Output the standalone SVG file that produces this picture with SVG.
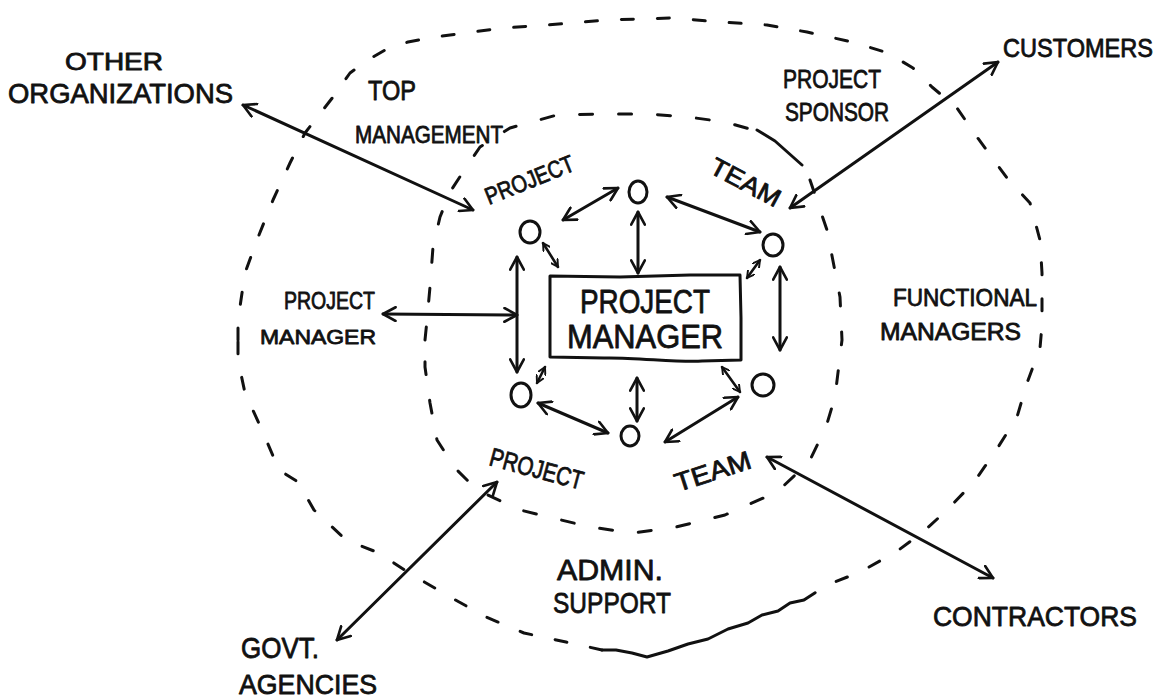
<svg xmlns="http://www.w3.org/2000/svg" width="1166" height="700" viewBox="0 0 1166 700">
  <style>
    .lbl { font-family: "Liberation Sans", "DejaVu Sans", sans-serif; fill: #111; stroke: #111; stroke-width: 0.8; stroke-linejoin: round; }
    .ring { fill: none; stroke: #111; stroke-width: 3; stroke-linecap: round; stroke-linejoin: round; }
    .outer { stroke-dasharray: 12 24; }
    .inner { stroke-dasharray: 13 26; }
    .solid { fill: none; stroke: #111; stroke-width: 3; stroke-linecap: round; stroke-linejoin: round; }
    .arr { fill: none; stroke: #111; stroke-width: 3; stroke-linecap: round; marker-start: url(#ah); marker-end: url(#ah); }
    .arr-s { fill: none; stroke: #111; stroke-width: 2.6; stroke-linecap: round; marker-start: url(#ahs); marker-end: url(#ahs); }
    .member { fill: none; stroke: #111; stroke-width: 3; }
  </style>
  <defs>
    <marker id="ah" viewBox="0 0 14 14" refX="12" refY="7" markerWidth="16" markerHeight="16" markerUnits="userSpaceOnUse" orient="auto-start-reverse">
      <path d="M1,1 L12,7 L1,13" fill="none" stroke="#111" stroke-width="2.3" stroke-linecap="round" stroke-linejoin="round"/>
    </marker>
    <marker id="ahs" viewBox="0 0 14 14" refX="12" refY="7" markerWidth="9" markerHeight="9" markerUnits="userSpaceOnUse" orient="auto-start-reverse">
      <path d="M1,1 L12,7 L1,13" fill="none" stroke="#111" stroke-width="3" stroke-linecap="round" stroke-linejoin="round"/>
    </marker>
  </defs>

  <rect width="1166" height="700" fill="#ffffff"/>

  <!-- outer ring: stakeholders around the project -->
  <g id="outer-ring">
    <path class="ring outer" d="M238,340 L238,320 L245,273 L257,240 L273,200 L290,163 L305,133 L333,97 L350,73 L368,60 L385,50 L408,42 L435,37 L472,32 L503,28 L547,25 L607,20 L672,18 L720,22 L767,25 L807,32 L852,42 L888,53 L913,68 L932,87 L957,108 L977,137 L1007,178 L1030,203 L1040,240 L1042,273 L1042,325 L1040,348 L1027,383 L1017,417 L995,452 L974,482 L947,510 L923,532 L896,552 L860,572 L827,585 L804,600"/>
    <path class="solid" d="M804,600 L790,603 L778,611 L762,615 L748,623 L728,629 L708,639 L688,644 L668,651 L647,657 L632,653 L616,650 L602,650"/>
    <path class="ring outer" d="M602,650 L566,642 L524,633 L486,617 L452,598 L409,573 L379,553 L346,540 L314,510 L298,482 L279,470 L262,430 L245,393 L238,360 L238,340"/>
  </g>

  <!-- inner ring: the project team -->
  <g id="inner-ring">
    <path class="ring inner" d="M425,340 L427,320 L430,287 L433,247 L440,217 L450,192 L463,172 L480,147 L510,128 L557,115 L600,114 L648,114 L688,117 L725,122 L757,131"/>
    <path class="solid" d="M757,130 L775,141 L802,165"/>
    <path class="ring inner" d="M810,180 L827,230 L840,297 L842,340 L835,397 L826,427 L809,462 L777,492 L725,515 L676,527 L633,533 L590,527 L553,518 L520,510 L477,490 L455,468 L437,440 L430,403 L425,367 L425,340"/>
  </g>

  <!-- central box -->
  <g id="project-manager-box">
    <path class="solid" d="M550,276 L620,277 L690,275 L740,275 L741,318 L741,360 L702,361 C682,363 632,357 604,358 L550,357 L550,316 Z"/>
    <text class="lbl" x="580" y="313" textLength="130" lengthAdjust="spacingAndGlyphs" font-size="34">PROJECT</text>
    <text class="lbl" x="567" y="348" textLength="156" lengthAdjust="spacingAndGlyphs" font-size="34">MANAGER</text>
  </g>

  <!-- team members -->
  <g id="member-top"><ellipse class="member" cx="638" cy="192" rx="9" ry="11"/></g>
  <g id="member-top-left"><ellipse class="member" cx="530" cy="232" rx="10" ry="11"/></g>
  <g id="member-top-right"><ellipse class="member" cx="773" cy="245" rx="10" ry="11"/></g>
  <g id="member-bottom-left"><ellipse class="member" cx="521" cy="395" rx="10" ry="12"/></g>
  <g id="member-bottom"><ellipse class="member" cx="630" cy="436" rx="9" ry="10"/></g>
  <g id="member-bottom-right"><ellipse class="member" cx="763" cy="385" rx="11" ry="11"/></g>

  <!-- ring labels -->
  <g id="label-top-management">
    <text class="lbl" x="368" y="100" textLength="48" lengthAdjust="spacingAndGlyphs" font-size="27">TOP</text>
    <text class="lbl" x="355" y="143" textLength="148" lengthAdjust="spacingAndGlyphs" font-size="24">MANAGEMENT</text>
  </g>
  <g id="label-project-sponsor">
    <text class="lbl" x="783" y="88" textLength="98" lengthAdjust="spacingAndGlyphs" font-size="26">PROJECT</text>
    <text class="lbl" x="785" y="121" textLength="104" lengthAdjust="spacingAndGlyphs" font-size="25">SPONSOR</text>
  </g>
  <g id="label-functional-managers">
    <text class="lbl" x="893" y="306" textLength="144" lengthAdjust="spacingAndGlyphs" font-size="24">FUNCTIONAL</text>
    <text class="lbl" x="880" y="340" textLength="141" lengthAdjust="spacingAndGlyphs" font-size="24">MANAGERS</text>
  </g>
  <g id="label-admin-support">
    <text class="lbl" x="557" y="580" textLength="106" lengthAdjust="spacingAndGlyphs" font-size="30">ADMIN.</text>
    <text class="lbl" x="553" y="613" textLength="118" lengthAdjust="spacingAndGlyphs" font-size="30">SUPPORT</text>
  </g>
  <g id="label-team-ring">
    <text class="lbl" transform="translate(489,205) rotate(-22)" textLength="94" lengthAdjust="spacingAndGlyphs" font-size="24">PROJECT</text>
    <text class="lbl" transform="translate(708,172) rotate(28)" textLength="76" lengthAdjust="spacingAndGlyphs" font-size="25">TEAM</text>
    <text class="lbl" transform="translate(488,465) rotate(15)" textLength="96" lengthAdjust="spacingAndGlyphs" font-size="26">PROJECT</text>
    <text class="lbl" transform="translate(678,492) rotate(-18)" textLength="79" lengthAdjust="spacingAndGlyphs" font-size="26">TEAM</text>
  </g>

  <!-- external parties -->
  <g id="other-organizations">
    <text class="lbl" x="65" y="70" textLength="98" lengthAdjust="spacingAndGlyphs" font-size="24">OTHER</text>
    <text class="lbl" x="8" y="103" textLength="225" lengthAdjust="spacingAndGlyphs" font-size="28">ORGANIZATIONS</text>
  </g>
  <g id="customers">
    <text class="lbl" x="1003" y="57" textLength="150" lengthAdjust="spacingAndGlyphs" font-size="25">CUSTOMERS</text>
  </g>
  <g id="project-manager-outside">
    <text class="lbl" x="284" y="309" textLength="91" lengthAdjust="spacingAndGlyphs" font-size="24">PROJECT</text>
    <text class="lbl" x="260" y="344" textLength="116" lengthAdjust="spacingAndGlyphs" font-size="21">MANAGER</text>
  </g>
  <g id="govt-agencies">
    <text class="lbl" x="241" y="658" textLength="78" lengthAdjust="spacingAndGlyphs" font-size="30">GOVT.</text>
    <text class="lbl" x="239" y="694" textLength="138" lengthAdjust="spacingAndGlyphs" font-size="28">AGENCIES</text>
  </g>
  <g id="contractors">
    <text class="lbl" x="933" y="626" textLength="204" lengthAdjust="spacingAndGlyphs" font-size="28">CONTRACTORS</text>
  </g>

  <!-- connectors -->
  <g id="connectors">
    <line class="arr" x1="243" y1="105" x2="473" y2="210"/>
    <line class="arr" x1="998" y1="62" x2="790" y2="208"/>
    <line class="arr" x1="383" y1="314" x2="517" y2="315"/>
    <line class="arr" x1="497" y1="482" x2="337" y2="640"/>
    <line class="arr" x1="767" y1="457" x2="993" y2="578"/>
    <line class="arr" x1="563" y1="220" x2="618" y2="188"/>
    <line class="arr" x1="667" y1="197" x2="760" y2="232"/>
    <line class="arr" x1="638" y1="212" x2="638" y2="273"/>
    <line class="arr" x1="517" y1="257" x2="517" y2="372"/>
    <line class="arr" x1="780" y1="267" x2="780" y2="350"/>
    <line class="arr" x1="538" y1="403" x2="608" y2="433"/>
    <line class="arr" x1="637" y1="378" x2="637" y2="421"/>
    <line class="arr" x1="665" y1="442" x2="738" y2="397"/>
    <line class="arr-s" x1="543" y1="243" x2="558" y2="267"/>
    <line class="arr-s" x1="760" y1="260" x2="747" y2="278"/>
    <line class="arr-s" x1="545" y1="367" x2="537" y2="383"/>
    <line class="arr-s" x1="722" y1="367" x2="740" y2="392"/>
  </g>
</svg>
